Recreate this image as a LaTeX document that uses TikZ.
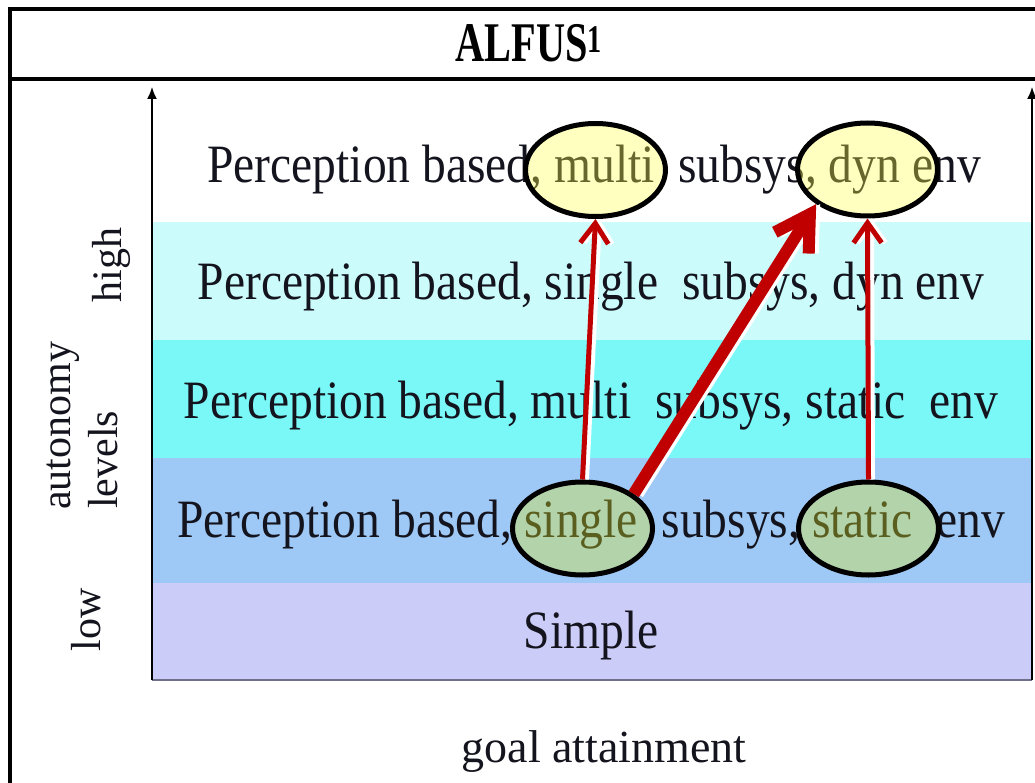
\documentclass[tikz,border=0pt]{standalone}
\usepackage{fontspec}
\setmainfont{Liberation Serif}
\usetikzlibrary{shapes.geometric,arrows.meta}
\definecolor{bandB}{RGB}{204,251,251}
\definecolor{bandC}{RGB}{122,247,247}
\definecolor{bandD}{RGB}{158,200,245}
\definecolor{bandE}{RGB}{204,204,248}
\definecolor{arrred}{RGB}{192,0,0}
\definecolor{hiyel}{rgb}{1,1,0.29}
\definecolor{higrn}{rgb}{0.866,0.914,0.134}
\definecolor{chartedge}{RGB}{112,112,140}
\definecolor{txtdark}{RGB}{20,20,30}
\begin{document}
\begin{tikzpicture}[x=1pt,y=-1pt,
  bandtxt/.style={anchor=base,inner sep=0pt,text=txtdark,font=\fontsize{54}{60}\selectfont},
  sidetxt/.style={rotate=90,inner sep=0pt,text=txtdark,font=\fontsize{42}{48}\selectfont},
  oval/.style={ellipse,draw=black,line width=5pt,minimum width=140pt,minimum height=93pt,inner sep=0pt,fill opacity=0.35},
  thinarr/.style={line width=5pt,-{Straight Barb[length=20pt,width=28pt]}},
  thickarr/.style={line width=12pt,-{Straight Barb[length=34pt,width=40pt]}},
  shade/.style={draw=white,transform canvas={xshift=4pt}},
  axisline/.style={line width=1.6pt,-{Latex[length=12pt,width=10pt]}},
]
\useasboundingbox (0,0) rectangle (1035,783);
\clip (0,0) rectangle (1035,783);
\fill[white] (0,0) rectangle (1035,783);
% frame
\draw[line width=4pt] (10,800) -- (10,9.5) -- (1050,9.5);
\draw[line width=4pt] (10,79) -- (1050,79);
\node[anchor=base,inner sep=0pt,font=\fontsize{56}{62}\selectfont\bfseries] (title) at (529,62) {\scalebox{0.72}[1]{ALFUS\textsuperscript{1}}};
% bands
\fill[bandB] (152,222) rectangle (1032,340);
\fill[bandC] (152,340) rectangle (1032,458);
\fill[bandD] (152,458) rectangle (1032,583);
\fill[bandE] (152,583) rectangle (1032,680);
% axes
\coordinate (o) at (152,680);
\coordinate (ytop) at (152,87);
\coordinate (r0) at (1032,680);
\coordinate (rtop) at (1032,87);
\draw[chartedge,line width=2pt] (o) -- (r0);
\draw[axisline] (o) -- (ytop);
\draw[axisline] (r0) -- (rtop);
% band texts
\node[bandtxt] (t1) at (594,183) {\scalebox{0.88}[1]{Perception based, multi\ \ subsys, dyn env}};
\node[bandtxt] (t2) at (591,300) {\scalebox{0.88}[1]{Perception based, single\ \ subsys, dyn env}};
\node[bandtxt] (t3) at (591,418) {\scalebox{0.88}[1]{Perception based, multi\ \ subsys, static\ \ env}};
\node[bandtxt] (t4) at (591,537) {\scalebox{0.88}[1]{Perception based, single\ \ subsys, static\ \ env}};
\node[bandtxt] (t5) at (591,648) {\scalebox{0.88}[1]{Simple}};
% side labels
\node[sidetxt,anchor=base] (high) at (121,265) {high};
\node[sidetxt,anchor=base west] (auto) at (70,510) {autonomy};
\node[sidetxt,anchor=base west] (lev) at (117,509) {levels};
\node[sidetxt,anchor=base] (low) at (100,620) {low};
\node[anchor=base,inner sep=0pt,text=txtdark,font=\fontsize{46}{52}\selectfont] (goal) at (604,762) {goal attainment};
% ellipses
\node[oval,fill=hiyel] (multi) at (595.5,170) {};
\node[oval,fill=hiyel] (dyn) at (867.5,169.5) {};
\node[oval,fill=higrn] (single) at (582.5,528.5) {};
\node[oval,fill=higrn] (static) at (868.5,528.5) {};
% arrows
\draw[thinarr,shade] (single.north) -- (multi.south);
\draw[thinarr,arrred] (single.north) -- (multi.south);
\draw[thinarr,shade] (static.north) -- (dyn.south);
\draw[thinarr,arrred] (static.north) -- (dyn.south);
\draw[thickarr,shade] (single.34) -- (dyn.214);
\draw[thickarr,arrred] (single.34) -- (dyn.214);
\end{tikzpicture}
\end{document}
